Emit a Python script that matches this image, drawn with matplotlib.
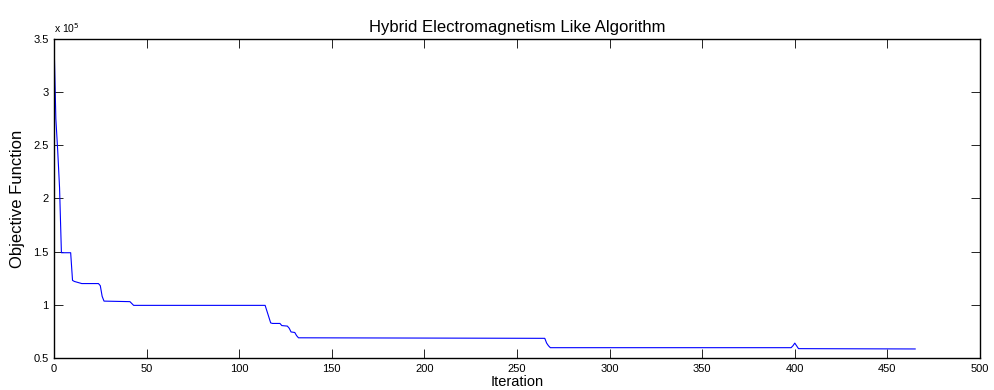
import matplotlib
matplotlib.use("Agg")
import matplotlib.pyplot as plt
from matplotlib.ticker import FuncFormatter

plt.rcParams['font.family'] = ['Liberation Sans', 'DejaVu Sans']

# objective value per iteration (breakpoints)
iterations = [0, 1, 2, 3, 4, 9, 10, 11, 15, 24, 25, 26, 27, 41, 43, 114, 117, 118,
              122, 123, 126, 127, 128, 130, 131, 132, 265, 266, 267, 268, 398, 399,
              400, 402, 465]
objective = [349000, 275000, 245000, 210000, 149000, 149000, 123000, 122000, 120000,
             120000, 118000, 108000, 103500, 103000, 99500, 99500, 83000, 82500,
             82500, 80500, 80000, 78000, 74500, 74000, 71000, 69000, 68500, 64000,
             61500, 59700, 59700, 61500, 64000, 58800, 58500]

xticks = [0, 50, 100, 150, 200, 250, 300, 350, 400, 450, 500]
yticks = [50000, 100000, 150000, 200000, 250000, 300000, 350000]

fig = plt.figure(figsize=(9.95, 3.9), dpi=100)
# right edge pulled in a little so the "500" label stays on the canvas
ax = fig.add_axes([54 / 995, 1 - 358 / 390, (980 - 54) / 995, (358 - 39) / 390])

ax.plot(iterations, objective, color='#0000ff', linewidth=0.8)

ax.set_xlim(0, 500)
ax.set_ylim(50000, 350000)
ax.set_xticks(xticks)
ax.set_yticks(yticks)
ax.yaxis.set_major_formatter(FuncFormatter(lambda v, p: f"{v / 1e5:g}"))

ax.tick_params(direction='in', length=6.5, width=0.6, top=True, right=True,
               labelsize=8, pad=4)
for s in ax.spines.values():
    s.set_linewidth(1.0)

ax.set_title("Hybrid Electromagnetism Like Algorithm", fontsize=12, pad=5)
ax.set_xlabel("Iteration", fontsize=10.5, labelpad=1)
ax.set_ylabel("Objective Function", fontsize=12, labelpad=6)
ax.text(0.0, 1.012, "x 10$^{5}$", transform=ax.transAxes, fontsize=7.5,
        ha='left', va='bottom')

fig.savefig("out.png", dpi=100)
